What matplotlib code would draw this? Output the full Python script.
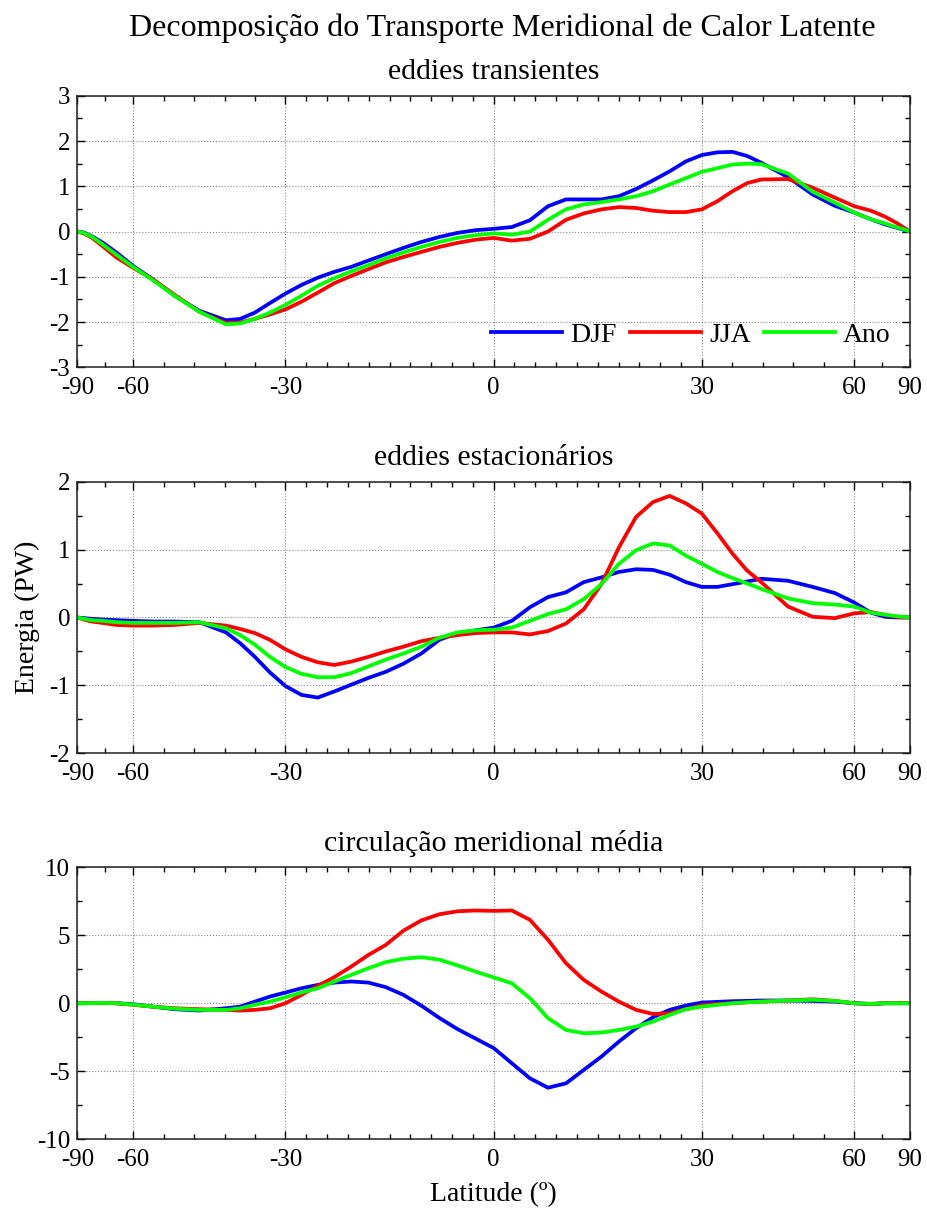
import numpy as np
import matplotlib
matplotlib.use('Agg')
import matplotlib.pyplot as plt
from matplotlib.ticker import FixedLocator, MultipleLocator

plt.rcParams['font.family'] = ['Liberation Serif', 'DejaVu Serif']
plt.rcParams['axes.unicode_minus'] = False

# latitudes (graus) onde as curvas foram amostradas
lat = [-90, -80, -75, -70, -65, -60, -55, -50, -45,
       -40, -37.5, -35, -32.5, -30, -27.5, -25, -22.5, -20, -17.5, -15, -12.5, -10, -7.5, -5, -2.5,
       0, 2.5, 5, 7.5, 10, 12.5, 15, 17.5, 20, 22.5, 25, 27.5, 30, 32.5, 35, 37.5, 40,
       45, 50, 55, 60, 65, 70, 75, 80, 90]

# eddies transientes (PW)
te_djf = [0, -0.02, -0.1, -0.24, -0.46, -0.76, -1.05, -1.42, -1.75,
          -1.96, -1.93, -1.79, -1.58, -1.37, -1.18, -1.02, -0.89, -0.78, -0.64, -0.5, -0.36, -0.23, -0.12, -0.03, 0.03,
          0.06, 0.1, 0.25, 0.56, 0.71, 0.71, 0.71, 0.78, 0.94, 1.13, 1.33, 1.55, 1.69, 1.75, 1.76, 1.67, 1.52,
          1.2, 0.82, 0.57, 0.42, 0.27, 0.16, 0.09, 0.04, 0]
te_jja = [0, -0.04, -0.13, -0.32, -0.57, -0.8, -1.05, -1.4, -1.77,
          -2.02, -2.01, -1.93, -1.83, -1.72, -1.55, -1.35, -1.14, -0.98, -0.83, -0.68, -0.56, -0.45, -0.34, -0.25, -0.18,
          -0.14, -0.2, -0.16, 0.0, 0.26, 0.4, 0.49, 0.54, 0.52, 0.46, 0.43, 0.43, 0.49, 0.67, 0.89, 1.07, 1.15,
          1.16, 0.97, 0.75, 0.56, 0.46, 0.33, 0.2, 0.09, 0]
te_ano = [0, -0.03, -0.11, -0.28, -0.51, -0.78, -1.07, -1.42, -1.77,
          -2.05, -2.03, -1.93, -1.79, -1.62, -1.42, -1.2, -1.03, -0.88, -0.74, -0.59, -0.46, -0.34, -0.23, -0.14, -0.08,
          -0.04, -0.07, 0.0, 0.26, 0.49, 0.6, 0.65, 0.71, 0.78, 0.89, 1.04, 1.18, 1.32, 1.4, 1.48, 1.5, 1.49,
          1.28, 0.88, 0.64, 0.42, 0.27, 0.18, 0.1, 0.05, 0]

# eddies estacionarios (PW)
se_djf = [0, -0.01, -0.02, -0.03, -0.04, -0.05, -0.06, -0.06, -0.07,
          -0.22, -0.38, -0.58, -0.81, -1.01, -1.14, -1.18, -1.09, -0.99, -0.89, -0.8, -0.68, -0.53, -0.33, -0.23, -0.19,
          -0.15, -0.05, 0.15, 0.3, 0.37, 0.52, 0.59, 0.67, 0.71, 0.7, 0.63, 0.52, 0.45, 0.45, 0.49, 0.53, 0.57,
          0.54, 0.45, 0.36, 0.22, 0.07, 0.01, 0.0, 0, 0]
se_jja = [0, -0.03, -0.06, -0.08, -0.11, -0.12, -0.12, -0.11, -0.08,
          -0.12, -0.17, -0.23, -0.33, -0.47, -0.58, -0.66, -0.7, -0.65, -0.58, -0.5, -0.43, -0.35, -0.3, -0.26, -0.23,
          -0.22, -0.22, -0.25, -0.2, -0.09, 0.12, 0.49, 1.03, 1.48, 1.7, 1.79, 1.68, 1.53, 1.24, 0.94, 0.69, 0.52,
          0.16, 0.01, -0.01, 0.06, 0.08, 0.04, 0.01, 0, 0]
se_ano = [0, -0.02, -0.04, -0.05, -0.07, -0.08, -0.08, -0.08, -0.07,
          -0.16, -0.26, -0.4, -0.58, -0.73, -0.83, -0.88, -0.88, -0.82, -0.72, -0.62, -0.53, -0.43, -0.3, -0.22, -0.19,
          -0.18, -0.15, -0.05, 0.05, 0.12, 0.27, 0.49, 0.79, 0.99, 1.09, 1.06, 0.91, 0.79, 0.67, 0.58, 0.5, 0.42,
          0.28, 0.21, 0.19, 0.16, 0.07, 0.04, 0.02, 0.01, 0]

# circulacao meridional media (PW)
mm_djf = [0, 0, 0.01, 0.02, 0.0, -0.07, -0.25, -0.44, -0.54,
          -0.37, -0.25, 0.12, 0.49, 0.79, 1.1, 1.35, 1.52, 1.6, 1.52, 1.18, 0.61, -0.18, -1.08, -1.9, -2.6,
          -3.3, -4.42, -5.53, -6.22, -5.9, -4.91, -3.93, -2.83, -1.84, -1.03, -0.49, -0.17, 0.05, 0.1, 0.15, 0.17, 0.2,
          0.2, 0.17, 0.12, 0.0, -0.05, 0.0, 0, 0, 0]
mm_jja = [0, 0, 0, 0, 0, -0.12, -0.25, -0.37, -0.44,
          -0.49, -0.54, -0.49, -0.37, 0.0, 0.61, 1.28, 1.92, 2.7, 3.56, 4.3, 5.35, 6.1, 6.55, 6.77, 6.83,
          6.8, 6.83, 6.14, 4.67, 2.95, 1.72, 0.86, 0.12, -0.49, -0.79, -0.74, -0.44, -0.15, -0.05, 0.0, 0.07, 0.12,
          0.2, 0.29, 0.17, 0.0, -0.07, 0.0, 0, 0, 0]
mm_ano = [0, 0, 0.01, 0.02, 0.0, -0.1, -0.25, -0.4, -0.49,
          -0.49, -0.37, -0.12, 0.12, 0.44, 0.79, 1.1, 1.6, 2.09, 2.58, 3.03, 3.28, 3.39, 3.21, 2.79, 2.33,
          1.9, 1.47, 0.37, -1.1, -1.97, -2.21, -2.16, -1.97, -1.72, -1.35, -0.86, -0.44, -0.25, -0.12, 0.0, 0.07, 0.12,
          0.2, 0.25, 0.17, 0.0, -0.05, 0, 0, 0, 0]

panels = [
    ('eddies transientes', te_djf, te_jja, te_ano, (-3, 3), 1, 0.5),
    ('eddies estacionários', se_djf, se_jja, se_ano, (-2, 2), 1, 0.5),
    ('circulação meridional média', mm_djf, mm_jja, mm_ano, (-10, 10), 5, 2.5),
]

xticks = [-90, -60, -30, 0, 30, 60, 90]
# subdivisoes menores iguais em seno da latitude
s = np.sin(np.radians(xticks))
nsub = [2, 5, 10, 10, 5, 2]
xminor = []
for i in range(len(s) - 1):
    xminor += list(np.linspace(s[i], s[i + 1], nsub[i] + 1)[1:-1])
xminor = np.degrees(np.arcsin(xminor))


def fwd(x):
    return np.sin(np.radians(x))


def inv(u):
    return np.degrees(np.arcsin(np.clip(u, -1, 1)))


fig = plt.figure(figsize=(9.28, 12.12), dpi=100)
bottoms = [0.6969, 0.3785, 0.0602]
axes = []
for (title, djf, jja, ano, ylim, ymaj, ymin), b in zip(panels, bottoms):
    ax = fig.add_axes([0.0833, b, 0.8973, 0.2241])
    ax.set_xscale('function', functions=(fwd, inv))
    ax.plot(lat, djf, color='#0000ff', lw=2.7, label='DJF', solid_joinstyle='round')
    ax.plot(lat, jja, color='#ff0000', lw=2.7, label='JJA', solid_joinstyle='round')
    ax.plot(lat, ano, color='#00ff00', lw=2.7, label='Ano', solid_joinstyle='round')
    ax.set_xlim(-90, 90)
    ax.set_ylim(*ylim)
    ax.xaxis.set_major_locator(FixedLocator(xticks))
    ax.xaxis.set_minor_locator(FixedLocator(xminor))
    ax.set_xticklabels([str(t) for t in xticks])
    ax.yaxis.set_major_locator(MultipleLocator(ymaj))
    ax.yaxis.set_minor_locator(MultipleLocator(ymin))
    ax.tick_params(which='both', direction='in', top=True, right=True, labelsize=18)
    ax.tick_params(which='major', length=6, width=1)
    ax.tick_params(which='minor', length=3.5, width=1)
    ax.tick_params(axis='x', pad=7)
    ax.tick_params(axis='y', pad=5)
    ax.grid(True, which='major', ls=':', color='#888888', lw=0.8)
    for sp in ax.spines.values():
        sp.set_linewidth(1.1)
        sp.set_color('#222222')
    ax.set_title(title, fontsize=21.5, pad=12)
    axes.append(ax)

axes[0].legend(loc='lower right', ncol=3, frameon=False, fontsize=20,
               handlelength=2.55, handletextpad=0.3, columnspacing=0.47,
               borderaxespad=0.3)
axes[1].set_ylabel('Energia (PW)', fontsize=20, labelpad=7)
axes[2].set_xlabel('Latitude (º)', fontsize=20, labelpad=8)
fig.suptitle('Decomposição do Transporte Meridional de Calor Latente', fontsize=23,
             x=0.541, y=0.989)

fig.savefig('out.png', dpi=100)
